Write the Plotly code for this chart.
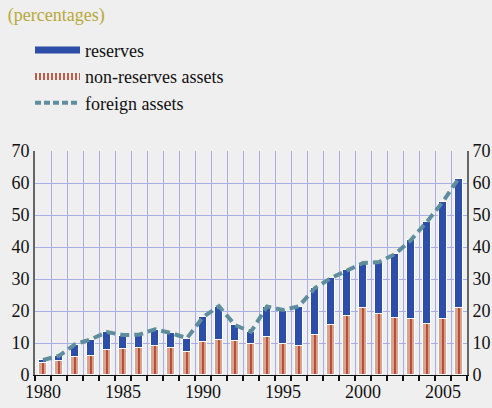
import plotly.graph_objects as go

years = list(range(1980, 2007))
non_reserves = [3.8, 4.3, 5.6, 5.9, 7.9, 8.2, 8.5, 9.0, 8.3, 7.3,
                10.3, 11.0, 10.7, 9.8, 11.9, 9.7, 9.0, 12.4, 15.7, 18.4,
                21.0, 19.2, 17.9, 17.6, 16.0, 17.4, 20.8]
reserves = [0.8, 1.7, 3.8, 5.1, 5.5, 4.0, 3.9, 5.0, 4.7, 3.9,
            7.7, 10.3, 4.8, 3.6, 9.4, 10.3, 12.4, 14.7, 14.5, 14.3,
            13.8, 15.9, 19.8, 24.5, 31.8, 36.6, 40.5]
foreign_assets = [4.7, 6.0, 9.6, 11.2, 13.4, 12.5, 12.6, 14.3, 13.1, 11.5,
                  18.1, 21.5, 15.6, 13.5, 21.4, 20.3, 21.5, 27.2, 30.3, 32.8,
                  35.0, 35.3, 37.8, 42.2, 47.9, 54.2, 61.6]
x_labels = [1980, 1985, 1990, 1995, 2000, 2005]

BG = "#efefef"
BLUE = "#2c4da8"
SALMON = "#d8a28f"
STRIPE = "#b03a26"
TEAL = "#5e8e9e"
GRID = "#a9ade6"
SERIF = "Liberation Serif"

fig = go.Figure()

# stacked bars: non-reserves at the bottom, reserves on top
fig.add_trace(go.Bar(
    x=years, y=non_reserves, width=0.5, showlegend=False,
    marker=dict(color=SALMON, line=dict(color="white", width=1),
                pattern=dict(shape="|", size=16, solidity=0.1,
                             fgcolor=STRIPE, bgcolor=SALMON, fillmode="replace")),
    hovertemplate="%{x}: %{y}<extra>non-reserves assets</extra>",
))
fig.add_trace(go.Bar(
    x=years, y=reserves, width=0.5, showlegend=False,
    marker=dict(color=BLUE, line=dict(color="white", width=1)),
    hovertemplate="%{x}: %{y}<extra>reserves</extra>",
))
fig.add_trace(go.Scatter(
    x=years, y=foreign_assets, mode="lines", showlegend=False,
    line=dict(color=TEAL, width=4, dash="9px,5px"),
    hovertemplate="%{x}: %{y}<extra>foreign assets</extra>",
))

# legend entries with wide swatches
fig.add_trace(go.Scatter(x=[None], y=[None], mode="lines", name="reserves",
                         line=dict(color=BLUE, width=7)))
fig.add_trace(go.Scatter(x=[None], y=[None], mode="lines", name="non-reserves assets",
                         line=dict(color="#c45a48", width=7, dash="2px,2px")))
fig.add_trace(go.Scatter(x=[None], y=[None], mode="lines", name="foreign assets",
                         line=dict(color=TEAL, width=4, dash="6px,3px")))

# mirrored scale on the right-hand side
fig.add_trace(go.Scatter(x=[None], y=[None], yaxis="y2", showlegend=False,
                         hoverinfo="skip"))

fig.update_layout(
    width=492, height=408,
    margin=dict(l=35, r=25, t=151, b=33, autoexpand=False),
    paper_bgcolor=BG, plot_bgcolor=BG,
    barmode="stack", bargap=0,
    font=dict(family=SERIF, size=18, color="#111"),
    title=dict(text="(percentages)", x=0.016, xanchor="left", y=0.963,
               yanchor="middle", font=dict(family=SERIF, size=18, color="#b8a838")),
    legend=dict(xref="container", yref="container", x=0.061, xanchor="left",
                y=0.922, yanchor="top",
                bgcolor="rgba(0,0,0,0)", font=dict(family=SERIF, size=18),
                traceorder="normal", tracegroupgap=0, itemwidth=45),
    xaxis=dict(range=[1979.5, 2006.5], tickvals=x_labels, ticks="",
               showgrid=False, zeroline=False,
               showline=True, linecolor="#111", linewidth=1,
               tickfont=dict(family=SERIF, size=18),
               minor=dict(tick0=1979.5, dtick=1, showgrid=True, gridcolor=GRID,
                          gridwidth=1, ticks="outside", ticklen=5,
                          tickcolor="#111", tickwidth=1.5)),
    yaxis=dict(range=[0, 70], dtick=10, showgrid=True, gridcolor=GRID, gridwidth=1,
               zeroline=False, showline=True, linecolor="#666", linewidth=2,
               ticks="", tickfont=dict(family=SERIF, size=18)),
    yaxis2=dict(range=[0, 70], dtick=10, overlaying="y", side="right",
                showgrid=False, zeroline=False, showline=True, linecolor="#666",
                linewidth=2, ticks="", tickfont=dict(family=SERIF, size=18)),
)

fig.write_html("out.html")
